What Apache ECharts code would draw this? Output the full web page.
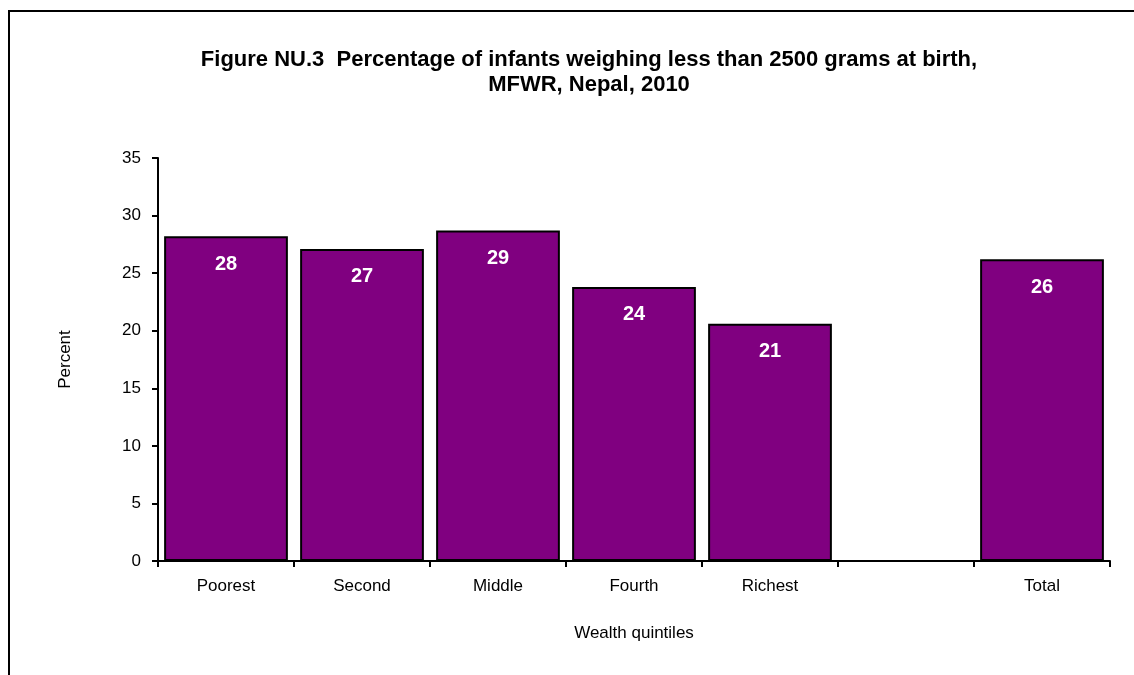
<!DOCTYPE html>
<html><head><meta charset="utf-8">
<script src="https://cdn.jsdelivr.net/npm/echarts@6/dist/echarts.min.js"></script>
<style>html,body{margin:0;padding:0;background:#fff}#c{width:1134px;height:675px}</style>
</head><body><div id="c"></div>
<script>
const categories = ['Poorest', 'Second', 'Middle', 'Fourth', 'Richest', '', 'Total'];
const percentValues = [28.2, 27.1, 28.7, 23.8, 20.6, null, 26.2];
const dataLabels = ['28', '27', '29', '24', '21', '', '26'];
const yTicks = [0, 5, 10, 15, 20, 25, 30, 35];

const chart = echarts.init(document.getElementById('c'), null, {renderer: 'canvas'});
const font = 'Liberation Sans, Arial, sans-serif';
chart.setOption({
  animation: false,
  backgroundColor: '#fff',
  title: {
    text: 'Figure NU.3  Percentage of infants weighing less than 2500 grams at birth,\nMFWR, Nepal, 2010',
    left: 584, top: 42, textAlign: 'center',
    textStyle: {fontFamily: font, fontWeight: 'bold', fontSize: 22, color: '#000', lineHeight: 25}
  },
  graphic: [{
    type: 'rect', shape: {x: 9, y: 11, width: 1140, height: 700},
    style: {fill: 'none', stroke: '#000', lineWidth: 2}, silent: true
  }],
  grid: {left: 158, right: 24, top: 158, bottom: 114, containLabel: false},
  xAxis: {
    type: 'category', data: categories,
    name: 'Wealth quintiles', nameLocation: 'middle', nameGap: 64,
    nameTextStyle: {fontFamily: font, fontSize: 17, color: '#000'},
    axisLine: {lineStyle: {color: '#000', width: 2}},
    axisTick: {show: true, alignWithLabel: false, length: 6, lineStyle: {color: '#000', width: 2}},
    axisLabel: {fontFamily: font, fontSize: 17, color: '#000', margin: 17}
  },
  yAxis: {
    type: 'value', min: 0, max: 35, interval: 5,
    name: 'Percent', nameLocation: 'middle', nameGap: 84, nameRotate: 90,
    nameTextStyle: {fontFamily: font, fontSize: 17, color: '#000'},
    axisLine: {show: true, lineStyle: {color: '#000', width: 2}},
    axisTick: {show: true, length: 6, lineStyle: {color: '#000', width: 2}},
    axisLabel: {fontFamily: font, fontSize: 17, color: '#000', margin: 17,
      formatter: v => yTicks.includes(v) ? String(v) : ''},
    splitLine: {show: false}
  },
  series: [{
    type: 'bar', data: percentValues,
    barCategoryGap: '9%',
    itemStyle: {color: '#800080', borderColor: '#000', borderWidth: 2},
    label: {
      show: true, position: 'insideTop', distance: 18,
      fontFamily: font, fontWeight: 'bold', fontSize: 20, color: '#fff',
      formatter: p => dataLabels[p.dataIndex]
    }
  }]
});
</script></body></html>
